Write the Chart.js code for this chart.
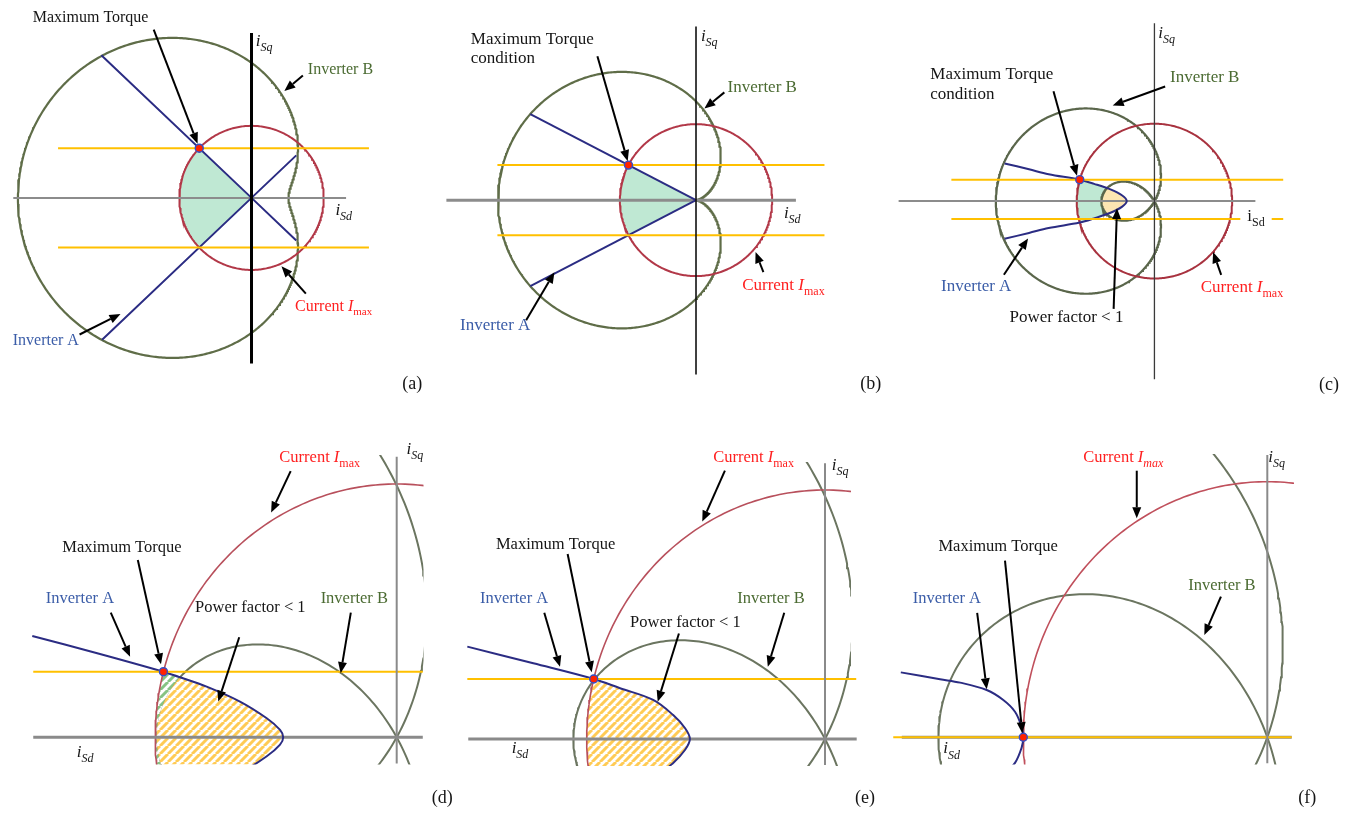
<!DOCTYPE html>
<html>
<head>
<meta charset="utf-8">
<script src="https://cdn.jsdelivr.net/npm/chart.js@4.4.1/dist/chart.umd.min.js"></script>
<style>
  html, body { margin: 0; padding: 0; background: #fff; }
  body { width: 1370px; height: 816px; position: relative; overflow: hidden; }
  canvas { position: absolute; }
</style>
</head>
<body>
<script>
// ---------------------------------------------------------------
// Operating-region diagrams in the (iSd, iSq) plane, Imax-normalised
// ---------------------------------------------------------------
const panelIds = ['a', 'b', 'c', 'd', 'e', 'f'];

// current limit circle radius
const imaxRadius = [1, 1, 1, 1, 1, 1];

// Inverter B voltage limit: limaçon r = b - a·cos(theta) about the origin
const invBConst = [1.874, 1.30, 0.679, 0.994, 0.975, 0.726];   // b
const invBCos   = [1.362, 1.30, 1.362, 1.988, 2.031, 2.074];   // a

// torque limit lines (iSq level) and their iSd extent
const torqueUpper = [0.69, 0.4615, 0.277, 0.259, 0.241, 0];
const torqueLower = [-0.69, -0.4615, -0.230, null, null, null];
const torqueSpan  = [[-2.68, 1.627], [-2.608, 1.687], [-2.613, 1.657], [-1.505, 0.108], [-1.501, 0.131], [-1.533, 0.100]];

// maximum torque operating point
const maxTorquePoint = [[-0.724, 0.69], [-0.887, 0.4615], [-0.961, 0.277], [-0.966, 0.259], [-0.9705, 0.241], [-1, 0]];

// axis extents
const dAxisSpan = [[-3.30, 1.31], [-3.278, 1.312], [-3.292, 1.299], [-1.505, 0.108], [-1.497, 0.133], [-1.498, 0.100]];
const qAxisSpan = [[-2.30, 2.29], [-2.295, 2.286], [-2.302, 2.298], [-0.103, 1.108], [-0.104, 1.107], [-0.102, 1.104]];

// Inverter A limits
const invA_a1 = [[-2.08, 1.98], [0, 0], [0.62, -0.59]];
const invA_a2 = [[-2.07, -1.97], [0, 0], [0.62, 0.59]];
const invA_b1 = [[-2.176, 1.133], [0, 0]];
const invA_b2 = [[-2.176, -1.133], [0, 0]];
const invA_c = [[-1.928, 0.487], [-1.614, 0.411], [-1.362, 0.348], [-0.961, 0.277], [-0.776, 0.223], [-0.566, 0.151],
                [-0.419, 0.075], [-0.356, 0], [-0.419, -0.075], [-0.566, -0.151], [-0.776, -0.223], [-0.961, -0.277],
                [-1.362, -0.348], [-1.614, -0.411], [-1.928, -0.487]];
const invA_d = [[-1.509, 0.400], [-1.240, 0.332], [-0.966, 0.259], [-0.904, 0.239], [-0.787, 0.200], [-0.649, 0.141],
                [-0.538, 0.075], [-0.483, 0.029], [-0.470, 0], [-0.483, -0.029], [-0.538, -0.075], [-0.649, -0.141],
                [-0.787, -0.200]];
const invA_e = [[-1.501, 0.371], [-1.224, 0.304], [-0.9705, 0.241], [-0.860, 0.204], [-0.721, 0.157], [-0.637, 0.096],
                [-0.587, 0.043], [-0.567, 0], [-0.587, -0.043], [-0.637, -0.096], [-0.721, -0.157], [-0.860, -0.204]];
const invA_f = [[-1.502, 0.254], [-1.341, 0.227], [-1.259, 0.214], [-1.150, 0.185], [-1.082, 0.146], [-1.034, 0.100],
                [-1.007, 0.041], [-1.0, 0], [-1.007, -0.041], [-1.034, -0.100], [-1.082, -0.146]];
const invALines = [[invA_a1, invA_a2], [invA_b1, invA_b2], [invA_c], [invA_d], [invA_e], [invA_f]];

// ---------------------------------------------------------------
// page placement of each diagram
// box: canvas [left, top, width, height]; origin: axis crossing; scale: px per unit; clip: plot window
// ---------------------------------------------------------------
const frames = [
  { box: [0, 0, 440, 410],    origin: [252.3, 197.7],  scale: [74, 74] },
  { box: [440, 0, 455, 410],  origin: [696.7, 200],    scale: [78, 78] },
  { box: [890, 0, 480, 410],  origin: [1155, 201],     scale: [79.5, 79.5] },
  { box: [0, 410, 460, 406],  origin: [396.7, 737.3],  scale: [241.5, 253.3], clip: [32, 455, 423.5, 764.5] },
  { box: [440, 410, 445, 406],origin: [825, 739],      scale: [238.3, 249],   clip: [466, 462, 851, 766] },
  { box: [870, 410, 500, 406],origin: [1267.3, 737.3], scale: [244, 255.6],   clip: [892, 454, 1294, 764.5] }
];

const BLUE = '#2b2c83', YELLOW = '#ffc000';
const STYLE = [
  { red: '#b23848', redW: 2,   green: '#5f6d48', greenW: 2.2, q: '#000',    qW: 3,   d: '#8c8c8c', dW: 2, font: 16 },
  { red: '#b23848', redW: 2,   green: '#5f6d48', greenW: 2.2, q: '#111',    qW: 1.6, d: '#8c8c8c', dW: 3, font: 17 },
  { red: '#a8323f', redW: 2,   green: '#5a664b', greenW: 2.2, q: '#3a3a3a', qW: 1.3, d: '#8c8c8c', dW: 2, font: 17 },
  { red: '#b8505c', redW: 1.6, green: '#6b7560', greenW: 2,   q: '#8a8a8a', qW: 2,   d: '#8a8a8a', dW: 3, font: 16.5 },
  { red: '#b8505c', redW: 1.6, green: '#6b7560', greenW: 2,   q: '#8a8a8a', qW: 2,   d: '#8a8a8a', dW: 3, font: 16.5 },
  { red: '#c0505c', redW: 1.6, green: '#6b7560', greenW: 2,   q: '#8a8a8a', qW: 2,   d: '#8a8a8a', dW: 3, font: 16.5 }
];

// shaded operating regions
const regions = [
  { stage: 'under', list: [{ paint: 'mint', inside: ['wedge', 'imax'] }] },
  { stage: 'under', list: [{ paint: 'mint', inside: ['wedge', 'imax'] }] },
  { stage: 'under', list: [{ paint: 'mint', inside: ['invA', 'imax'] }, { paint: 'beige', inside: ['invA', 'inner'] }] },
  { stage: 'invB',  list: [{ paint: 'hatchGreen', inside: ['invA', 'imax'], outside: ['inner'] },
                           { paint: 'hatchYellow', inside: ['invA', 'imax', 'inner'] }] },
  { stage: 'invB',  list: [{ paint: 'hatchYellow', inside: ['invA', 'imax'] }] },
  { stage: 'none',  list: [] }
];

// ---------------------------------------------------------------
// annotations (data coordinates)
// ---------------------------------------------------------------
const INK = '#151515', BLUE_T = '#3b5da8', GREEN_T = '#4b6b32', RED_T = '#ff2020';
const T = s => [[s, '']];
const CUR = [['Current ', ''], ['I', 'i'], ['max', 's']];
const CUR_IT = [['Current ', ''], ['I', 'i'], ['max', 'si']];
const ISQ = [['i', 'i'], ['Sq', 'si']];
const ISD = [['i', 'i'], ['Sd', 'si']];
const ISD_UP = [['i', ''], ['Sd', 's']];

const notes = [
  { labels: [
      [[-3.031, 2.435], T('Maximum Torque'), INK],
      [[0.780, 1.720], T('Inverter B'), GREEN_T],
      [[0.604, -1.565], CUR, RED_T],
      [[-3.308, -2.038], T('Inverter A'), BLUE_T],
      [[0.060, 2.111], ISQ, INK, 17],
      [[1.162, -0.234], ISD, INK, 17],
      [[2.090, -2.653], T('(a)'), INK, 18]],
    arrows: [[[-1.355, 2.334], [-0.747, 0.753]], [[0.712, 1.699], [0.455, 1.482]],
             [[0.753, -1.328], [0.415, -0.950]], [[-2.382, -1.896], [-1.815, -1.612]]] },
  { labels: [
      [[-2.958, 2.058], T('Maximum Torque'), INK],
      [[-2.958, 1.801], T('condition'), INK],
      [[0.414, 1.429], T('Inverter B'), GREEN_T],
      [[0.606, -1.186], CUR, RED_T],
      [[-3.099, -1.712], T('Inverter A'), BLUE_T],
      [[0.064, 2.094], ISQ, INK, 17],
      [[1.154, -0.235], ISD, INK, 17],
      [[2.158, -2.487], T('(b)'), INK, 18]],
    arrows: [[[-1.295, 1.894], [-0.897, 0.513]], [[0.372, 1.419], [0.110, 1.205]],
             [[0.885, -0.949], [0.782, -0.683]], [[-2.231, -1.581], [-1.859, -0.949]]] },
  { labels: [
      [[-2.884, 1.572], T('Maximum Torque'), INK],
      [[-2.884, 1.321], T('condition'), INK],
      [[0.201, 1.535], T('Inverter B'), GREEN_T],
      [[-2.746, -1.161], T('Inverter A'), BLUE_T],
      [[-1.865, -1.560], T('Power factor < 1'), INK],
      [[0.595, -1.174], CUR, RED_T],
      [[0.050, 2.109], ISQ, INK, 17],
      [[1.195, -0.260], ISD_UP, INK, 17, true],
      [[2.117, -2.440], T('(c)'), INK, 18]],
    arrows: [[[-1.299, 1.418], [-0.997, 0.327]], [[0.138, 1.481], [-0.537, 1.236]],
             [[-1.937, -0.952], [-1.626, -0.482]], [[-0.525, -1.392], [-0.482, -0.092]],
             [[0.859, -0.952], [0.755, -0.658]]] },
  { labels: [
      [[-0.486, 1.088], CUR, RED_T],
      [[-1.385, 0.733], T('Maximum Torque'), INK],
      [[-1.453, 0.529], T('Inverter A'), BLUE_T],
      [[-0.835, 0.493], T('Power factor < 1'), INK],
      [[-0.315, 0.529], T('Inverter B'), GREEN_T],
      [[0.041, 1.118], ISQ, INK, 17],
      [[-1.325, -0.077], ISD, INK, 17],
      [[0.145, -0.261], T('(d)'), INK, 18]],
    arrows: [[[-0.439, 1.051], [-0.520, 0.887]], [[-1.072, 0.700], [-0.976, 0.288]],
             [[-1.184, 0.492], [-1.104, 0.318]], [[-0.652, 0.395], [-0.739, 0.141]],
             [[-0.190, 0.492], [-0.232, 0.253]]] },
  { labels: [
      [[-0.469, 1.114], CUR, RED_T],
      [[-1.381, 0.763], T('Maximum Torque'), INK],
      [[-1.448, 0.545], T('Inverter A'), BLUE_T],
      [[-0.818, 0.449], T('Power factor < 1'), INK],
      [[-0.368, 0.545], T('Inverter B'), GREEN_T],
      [[0.028, 1.080], ISQ, INK, 17],
      [[-1.315, -0.057], ISD, INK, 17],
      [[0.126, -0.257], T('(e)'), INK, 18]],
    arrows: [[[-0.420, 1.078], [-0.515, 0.873]], [[-1.080, 0.743], [-0.979, 0.268]],
             [[-1.178, 0.507], [-1.112, 0.290]], [[-0.613, 0.424], [-0.702, 0.150]],
             [[-0.171, 0.507], [-0.240, 0.290]]] },
  { labels: [
      [[-0.754, 1.078], CUR_IT, RED_T],
      [[-1.348, 0.730], T('Maximum Torque'), INK],
      [[-1.453, 0.524], T('Inverter A'), BLUE_T],
      [[-0.324, 0.576], T('Inverter B'), GREEN_T],
      [[0.004, 1.078], ISQ, INK, 17],
      [[-1.328, -0.063], ISD, INK, 17],
      [[0.127, -0.258], T('(f)'), INK, 18]],
    arrows: [[[-0.535, 1.043], [-0.535, 0.857]], [[-1.075, 0.691], [-1.004, 0.016]],
             [[-1.189, 0.487], [-1.150, 0.188]], [[-0.190, 0.550], [-0.258, 0.400]]] }
];

// ---------------------------------------------------------------
// geometry helpers
// ---------------------------------------------------------------
const xy = p => ({ x: p[0], y: p[1] });

function circlePts(r) {
  const pts = [];
  for (let k = 0; k <= 360; k++) {
    const t = k * Math.PI / 180;
    pts.push({ x: r * Math.cos(t), y: r * Math.sin(t) });
  }
  return pts;
}
function limaconPts(b, a) {
  const pts = [];
  for (let k = 0; k <= 720; k++) {
    const t = k * Math.PI / 360, r = b - a * Math.cos(t);
    pts.push({ x: r * Math.cos(t), y: r * Math.sin(t) });
  }
  return pts;
}
function innerLoopPts(b, a) {
  if (b >= a) return [];
  const t0 = Math.acos(b / a), pts = [];
  for (let k = 0; k <= 240; k++) {
    const t = -t0 + 2 * t0 * k / 240, r = b - a * Math.cos(t);
    pts.push({ x: r * Math.cos(t), y: r * Math.sin(t) });
  }
  return pts;
}

// diagonal stripe pattern on white
function makeHatch(ctx, color) {
  const p = 8, c = document.createElement('canvas');
  c.width = c.height = p;
  const g = c.getContext('2d');
  g.fillStyle = '#fff';
  g.fillRect(0, 0, p, p);
  g.strokeStyle = color;
  g.lineWidth = 3;
  g.beginPath();
  for (const k of [-p, 0, p]) { g.moveTo(k, p); g.lineTo(k + p, 0); }
  g.stroke();
  return ctx.createPattern(c, 'repeat');
}

function tracePts(ctx, chart, pts) {
  const xs = chart.scales.x, ys = chart.scales.y;
  pts.forEach((p, k) => {
    const X = xs.getPixelForValue(p.x), Y = ys.getPixelForValue(p.y);
    if (k) ctx.lineTo(X, Y); else ctx.moveTo(X, Y);
  });
  ctx.closePath();
}

function traceShape(ctx, chart, name, i) {
  if (name === 'imax') return tracePts(ctx, chart, circlePts(imaxRadius[i]));
  if (name === 'inner') return tracePts(ctx, chart, innerLoopPts(invBConst[i], invBCos[i]));
  if (name === 'wedge') {
    const L = invALines[i];
    return tracePts(ctx, chart, [xy(L[0][0]), { x: 0, y: 0 }, xy(L[1][0])]);
  }
  if (name === 'invA') {
    const idx = chart.data.datasets.findIndex(d => d.key === 'invA');
    const el = chart.getDatasetMeta(idx).dataset;
    const pts = el.points;
    const far = chart.chartArea.left - 200;
    if (typeof el.path === 'function' && typeof el.updateControlPoints === 'function') {
      el.updateControlPoints(chart.chartArea, 'x');
      el.path(ctx);
    } else {
      pts.forEach((p, k) => k ? ctx.lineTo(p.x, p.y) : ctx.moveTo(p.x, p.y));
    }
    ctx.lineTo(far, pts[pts.length - 1].y);
    ctx.lineTo(far, pts[0].y);
    ctx.closePath();
  }
}

function paintRegions(chart, i) {
  const ctx = chart.ctx, area = chart.chartArea;
  const paints = {
    mint: '#bfe8d3',
    beige: '#fde5b2',
    hatchYellow: makeHatch(ctx, '#ffcb55'),
    hatchGreen: makeHatch(ctx, '#86c383')
  };
  for (const r of regions[i].list) {
    ctx.save();
    ctx.beginPath();
    ctx.rect(area.left, area.top, area.right - area.left, area.bottom - area.top);
    ctx.clip();
    for (const s of r.inside) { ctx.beginPath(); traceShape(ctx, chart, s, i); ctx.clip(); }
    for (const s of (r.outside || [])) {
      ctx.beginPath();
      ctx.rect(-5000, -5000, 10000, 10000);
      traceShape(ctx, chart, s, i);
      ctx.clip('evenodd');
    }
    ctx.fillStyle = paints[r.paint];
    ctx.fillRect(area.left, area.top, area.right - area.left, area.bottom - area.top);
    ctx.restore();
  }
}

function drawArrow(ctx, x1, y1, x2, y2) {
  const ang = Math.atan2(y2 - y1, x2 - x1), L = 11, W = 4.5;
  const bx = x2 - L * Math.cos(ang), by = y2 - L * Math.sin(ang);
  ctx.strokeStyle = '#000';
  ctx.fillStyle = '#000';
  ctx.lineWidth = 2;
  ctx.beginPath(); ctx.moveTo(x1, y1); ctx.lineTo(bx, by); ctx.stroke();
  ctx.beginPath();
  ctx.moveTo(x2, y2);
  ctx.lineTo(bx - W * Math.sin(ang), by + W * Math.cos(ang));
  ctx.lineTo(bx + W * Math.sin(ang), by - W * Math.cos(ang));
  ctx.closePath(); ctx.fill();
}

function fontFor(style, size) {
  const sub = style.includes('s'), it = style.includes('i');
  const fs = sub ? Math.round(size * 0.7) : size;
  return { font: `${it ? 'italic ' : ''}${fs}px "Liberation Serif", "Times New Roman", serif`, dy: sub ? size * 0.3 : 0 };
}

function drawLabel(ctx, chart, lab, baseSize) {
  const [at, parts, color, size0, bg] = lab;
  const size = size0 || baseSize;
  let x = chart.scales.x.getPixelForValue(at[0]);
  const y = chart.scales.y.getPixelForValue(at[1]);
  ctx.textBaseline = 'alphabetic';
  ctx.textAlign = 'left';
  if (bg) {
    let w = 0;
    for (const [t, st] of parts) { ctx.font = fontFor(st, size).font; w += ctx.measureText(t).width; }
    ctx.fillStyle = '#fff';
    ctx.fillRect(x - 7, y - size, w + 14, size + 9);
  }
  ctx.fillStyle = color;
  for (const [t, st] of parts) {
    const f = fontFor(st, size);
    ctx.font = f.font;
    ctx.fillText(t, x, y + f.dy);
    x += ctx.measureText(t).width;
  }
}

// ---------------------------------------------------------------
// build the six charts
// ---------------------------------------------------------------
frames.forEach((f, i) => {
  const S = STYLE[i];
  const cv = document.createElement('canvas');
  cv.id = 'diagram-' + panelIds[i];
  cv.width = f.box[2];
  cv.height = f.box[3];
  cv.style.left = f.box[0] + 'px';
  cv.style.top = f.box[1] + 'px';
  cv.style.width = f.box[2] + 'px';
  cv.style.height = f.box[3] + 'px';
  document.body.appendChild(cv);

  const plot = f.clip || [f.box[0], f.box[1], f.box[0] + f.box[2], f.box[1] + f.box[3]];
  const [ox, oy] = f.origin, [sx, sy] = f.scale;
  const padding = {
    left: plot[0] - f.box[0], top: plot[1] - f.box[1],
    right: f.box[0] + f.box[2] - plot[2], bottom: f.box[1] + f.box[3] - plot[3]
  };

  // back-to-front drawing sequence
  const seq = [];
  seq.push({ key: 'invB', data: limaconPts(invBConst[i], invBCos[i]), borderColor: S.green, borderWidth: S.greenW });
  seq.push({ key: 'imax', data: circlePts(imaxRadius[i]), borderColor: S.red, borderWidth: S.redW });
  seq.push({ key: 'dAxis', data: [{ x: dAxisSpan[i][0], y: 0 }, { x: dAxisSpan[i][1], y: 0 }],
             borderColor: S.d, borderWidth: S.dW, clip: false });
  invALines[i].forEach((ln, k) => {
    seq.push({ key: k === 0 ? 'invA' : 'invA' + k, data: ln.map(xy), borderColor: BLUE, borderWidth: 2,
               tension: ln.length > 3 ? 0.35 : 0 });
  });
  seq.push({ key: 'torqueUp', data: [{ x: torqueSpan[i][0], y: torqueUpper[i] }, { x: torqueSpan[i][1], y: torqueUpper[i] }],
             borderColor: YELLOW, borderWidth: 2, clip: false });
  if (torqueLower[i] !== null) {
    seq.push({ key: 'torqueLow', data: [{ x: torqueSpan[i][0], y: torqueLower[i] }, { x: torqueSpan[i][1], y: torqueLower[i] }],
               borderColor: YELLOW, borderWidth: 2, clip: false });
  }
  seq.push({ key: 'qAxis', data: [{ x: 0, y: qAxisSpan[i][0] }, { x: 0, y: qAxisSpan[i][1] }],
             borderColor: S.q, borderWidth: S.qW, clip: false });
  seq.push({ key: 'maxTorque', data: [xy(maxTorquePoint[i])], showLine: false, pointRadius: 4,
             pointBackgroundColor: '#ff2200', pointBorderColor: '#3350c8', pointBorderWidth: 1.4, clip: false });

  const n = seq.length;
  const datasets = seq.map((d, k) => Object.assign({
    showLine: true, pointRadius: 0, fill: false, tension: 0, order: n - k
  }, d));

  const regionPlugin = {
    id: 'regionFill',
    beforeDatasetsDraw(chart) { if (regions[i].stage === 'under') paintRegions(chart, i); },
    afterDatasetDraw(chart, args) {
      const ds = chart.data.datasets[args.index];
      if (ds && ds.key === regions[i].stage) paintRegions(chart, i);
    }
  };
  const notePlugin = {
    id: 'notes',
    afterDraw(chart) {
      const ctx = chart.ctx, xs = chart.scales.x, ys = chart.scales.y;
      ctx.save();
      for (const [a, b] of notes[i].arrows) {
        drawArrow(ctx, xs.getPixelForValue(a[0]), ys.getPixelForValue(a[1]),
                       xs.getPixelForValue(b[0]), ys.getPixelForValue(b[1]));
      }
      for (const lab of notes[i].labels) drawLabel(ctx, chart, lab, S.font);
      ctx.restore();
    }
  };

  new Chart(cv, {
    type: 'scatter',
    data: { datasets },
    options: {
      responsive: false,
      animation: false,
      events: [],
      layout: { padding },
      plugins: { legend: { display: false }, tooltip: { enabled: false }, title: { display: false } },
      scales: {
        x: { type: 'linear', display: false, bounds: 'data', min: (plot[0] - ox) / sx, max: (plot[2] - ox) / sx },
        y: { type: 'linear', display: false, bounds: 'data', min: (oy - plot[3]) / sy, max: (oy - plot[1]) / sy }
      }
    },
    plugins: [regionPlugin, notePlugin]
  });
});
</script>
</body>
</html>
